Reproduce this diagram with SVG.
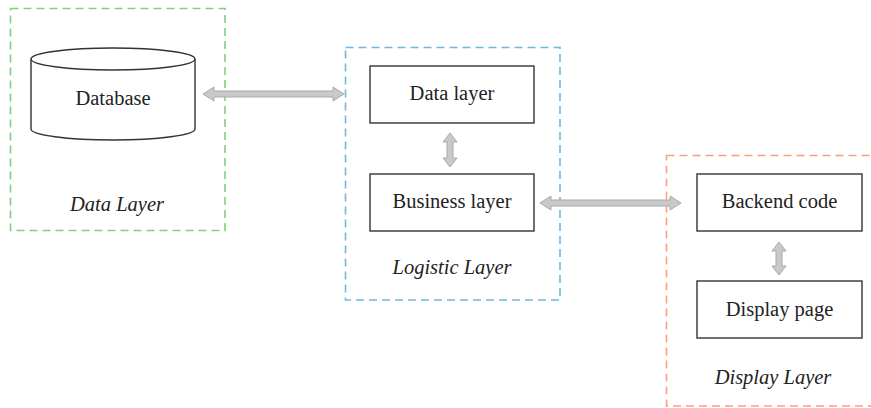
<svg xmlns="http://www.w3.org/2000/svg" width="871" height="408" viewBox="0 0 871 408">
  <style>
    .layer { fill: none; stroke-width: 1.6; stroke-dasharray: 8 5; }
    .green { stroke: #7fd07f; }
    .blue { stroke: #6cb9e2; }
    .orange { stroke: #f7a27c; }
    .box { fill: #ffffff; stroke: #333333; stroke-width: 1.4; }
    .label { font-family: "Liberation Serif", "DejaVu Serif", serif; font-size: 20.5px; fill: #222222; text-anchor: middle; }
    .title { font-family: "Liberation Serif", "DejaVu Serif", serif; font-size: 20.5px; font-style: italic; fill: #222222; text-anchor: middle; }
    .arrow { fill: #c9c9c9; stroke: #a9a9a9; stroke-width: 1; stroke-linejoin: miter; }
  </style>

  <!-- Data layer group -->
  <g id="data-layer">
    <rect class="layer green" x="10.5" y="8.5" width="214.5" height="222"/>
    <text class="title" x="117" y="211">Data Layer</text>
  </g>
  <g id="database">
    <path class="box" d="M31 59 V129 A82 11 0 0 0 195 129 V59"/>
    <ellipse class="box" cx="113" cy="59" rx="82" ry="11"/>
    <text class="label" x="113" y="105">Database</text>
  </g>

  <!-- Logistic layer group -->
  <g id="logistic-layer">
    <rect class="layer blue" x="345.5" y="47.5" width="214.5" height="252.5"/>
    <text class="title" x="452" y="274">Logistic Layer</text>
  </g>
  <g id="data-layer-box">
    <rect class="box" x="370" y="66" width="164" height="57"/>
    <text class="label" x="452" y="100">Data layer</text>
  </g>
  <g id="business-layer">
    <rect class="box" x="370" y="174" width="164" height="57"/>
    <text class="label" x="452" y="208">Business layer</text>
  </g>

  <!-- Display layer group -->
  <g id="display-layer">
    <rect class="layer orange" x="666.5" y="155.5" width="220" height="250.5"/>
    <text class="title" x="773" y="384">Display Layer</text>
  </g>
  <g id="backend-code">
    <rect class="box" x="697" y="174" width="165" height="57"/>
    <text class="label" x="779.5" y="208">Backend code</text>
  </g>
  <g id="display-page">
    <rect class="box" x="697" y="281" width="165" height="57"/>
    <text class="label" x="779.5" y="316">Display page</text>
  </g>

  <!-- Connectors: double-headed block arrows -->
  <g id="connectors">
    <polygon class="arrow" points="203,94 214,87 214,91 333,91 333,87 344,94 333,101 333,97 214,97 214,101"/>
    <polygon class="arrow" points="540,203 551,196 551,200 670,200 670,196 681,203 670,210 670,206 551,206 551,210"/>
    <polygon class="arrow" points="450,133 457,142 453,142 453,158 457,158 450,167 443,158 447,158 447,142 443,142"/>
    <polygon class="arrow" points="779,242 786,251 782,251 782,266 786,266 779,275 772,266 776,266 776,251 772,251"/>
  </g>
</svg>
